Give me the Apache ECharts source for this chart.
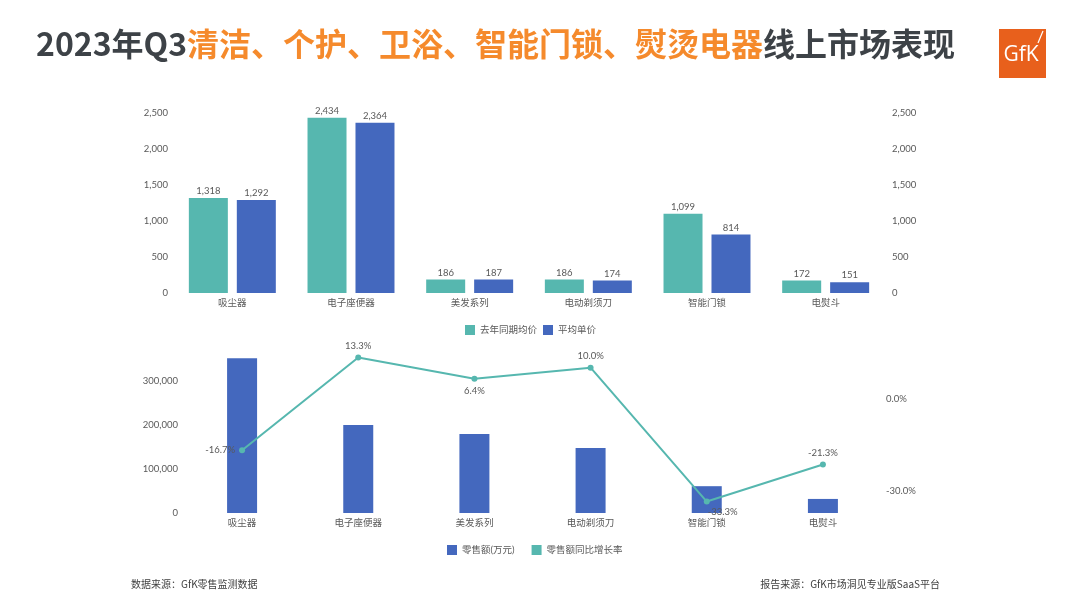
<!DOCTYPE html>
<html>
<head>
<meta charset="utf-8">
<script src="https://cdn.jsdelivr.net/npm/echarts@6/dist/echarts.min.js"></script>
<style>html,body{margin:0;padding:0;background:#fff;}#c{width:1080px;height:608px;}</style>
</head>
<body>
<div id="c"></div>
<script>
var categories = ['吸尘器','电子座便器','美发系列','电动剃须刀','智能门锁','电熨斗'];
var lastYearPrice = [1318, 2434, 186, 186, 1099, 172];
var avgPrice = [1292, 2364, 187, 174, 814, 151];
var salesAmount = [352000, 200000, 179500, 148000, 61000, 32000];
var salesGrowth = [-16.7, 13.3, 6.4, 10.0, -33.3, -21.3];

var FONT = 'Lato, "Noto Sans CJK SC", sans-serif';
var GRAY = '#595959';
var TEAL = '#56B7AF';
var BLUE = '#4468BE';
function commas(v){ return String(Math.round(v)).replace(/\B(?=(\d{3})+(?!\d))/g, ','); }

var chart = echarts.init(document.getElementById('c'));
var lbl = {color: GRAY, fontSize: 9.5, fontFamily: FONT};
chart.setOption({
  animation: false,
  backgroundColor: '#fff',
  textStyle: {fontFamily: FONT},
  title: {
    left: 31, top: 23,
    text: '{a|2023年Q3}{b|清洁、个护、卫浴、智能门锁、熨烫电器}{a|线上市场表现}',
    textStyle: {
      rich: {
        a: {fontSize: 32, fontWeight: 'bold', color: '#3D4247', fontFamily: '"Noto Sans CJK SC", sans-serif'},
        b: {fontSize: 32, fontWeight: 'bold', color: '#F58A2C', fontFamily: '"Noto Sans CJK SC", sans-serif'}
      }
    }
  },
  legend: [
    {data: ['去年同期均价','平均单价'], left: 460, top: 320, icon: 'rect', itemWidth: 10, itemHeight: 10, itemGap: 6,
     textStyle: {color: GRAY, fontSize: 9.5, fontFamily: FONT}},
    {data: ['零售额(万元)','零售额同比增长率'], left: 442, top: 540, icon: 'rect', itemWidth: 10, itemHeight: 10, itemGap: 17,
     textStyle: {color: GRAY, fontSize: 9.5, fontFamily: FONT}}
  ],
  grid: [
    {left: 173, right: 195, top: 113, height: 180},
    {left: 184, right: 199, top: 346, height: 167}
  ],
  xAxis: [
    {type: 'category', gridIndex: 0, data: categories, axisLine: {show: false}, axisTick: {show: false},
     axisLabel: Object.assign({margin: 5}, lbl)},
    {type: 'category', gridIndex: 1, data: categories, axisLine: {show: false}, axisTick: {show: false},
     axisLabel: Object.assign({margin: 5}, lbl)}
  ],
  yAxis: [
    {type: 'value', gridIndex: 0, min: 0, max: 2500, interval: 500, splitLine: {show: false},
     axisLabel: Object.assign({margin: 5, formatter: commas}, lbl)},
    {type: 'value', gridIndex: 0, position: 'right', min: 0, max: 2500, interval: 500, splitLine: {show: false},
     axisLabel: Object.assign({margin: 7, formatter: commas}, lbl)},
    {type: 'value', gridIndex: 1, min: 0, max: 380000, interval: 100000, splitLine: {show: false},
     axisLabel: Object.assign({margin: 6, formatter: commas, showMaxLabel: false}, lbl)},
    {type: 'value', gridIndex: 1, position: 'right', min: -37, max: 17, interval: 1, splitLine: {show: false},
     axisLabel: Object.assign({margin: 5, formatter: function(v){
        var r = Math.round(v * 10) / 10;
        if (r === 0) return '0.0%';
        if (r === -30) return '-30.0%';
        return '';
     }}, lbl)}
  ],
  series: [
    {name: '去年同期均价', type: 'bar', xAxisIndex: 0, yAxisIndex: 0, data: lastYearPrice, barWidth: 39, barGap: '23%',
     itemStyle: {color: TEAL},
     label: Object.assign({show: true, position: 'top', distance: 2, formatter: function(p){return commas(p.value);}}, lbl)},
    {name: '平均单价', type: 'bar', xAxisIndex: 0, yAxisIndex: 0, data: avgPrice, barWidth: 39, barGap: '23%',
     itemStyle: {color: BLUE},
     label: Object.assign({show: true, position: 'top', distance: 2, formatter: function(p){return commas(p.value);}}, lbl)},
    {name: '零售额(万元)', type: 'bar', xAxisIndex: 1, yAxisIndex: 2, data: salesAmount, barWidth: 30,
     itemStyle: {color: BLUE}},
    {name: '零售额同比增长率', type: 'line', xAxisIndex: 1, yAxisIndex: 3, z: 5,
     data: salesGrowth.map(function(v, i){
       var pos = ['left','top','bottom','top','bottom','top'][i];
       var d = {value: v, label: {position: pos}};
       if (i === 4) d.label = {position: 'bottom', offset: [16, -1]};
       return d;
     }),
     symbol: 'circle', symbolSize: 6,
     lineStyle: {color: TEAL, width: 2}, itemStyle: {color: TEAL},
     label: Object.assign({show: true, distance: 4, formatter: function(p){return p.value.toFixed(1) + '%';}}, lbl)}
  ],
  graphic: [
    {type: 'rect', shape: {x: 999, y: 29, width: 47, height: 49}, style: {fill: '#E8601C'}},
    {type: 'text', style: {x: 1021, y: 55, text: 'GfK', fill: '#fff', font: '21px "Open Sans", sans-serif', textAlign: 'center', textVerticalAlign: 'middle'}},
    {type: 'line', shape: {x1: 1043, y1: 31, x2: 1038, y2: 43}, style: {stroke: '#fff', lineWidth: 1.2}},
    {type: 'text', style: {x: 131, y: 584, text: '数据来源：GfK零售监测数据', fill: '#404040', font: '10px "Noto Sans CJK SC", sans-serif', textVerticalAlign: 'middle'}},
    {type: 'text', style: {x: 940, y: 584, text: '报告来源：GfK市场洞见专业版SaaS平台', fill: '#404040', font: '10px "Noto Sans CJK SC", sans-serif', textAlign: 'right', textVerticalAlign: 'middle'}}
  ]
});
</script>
</body>
</html>
